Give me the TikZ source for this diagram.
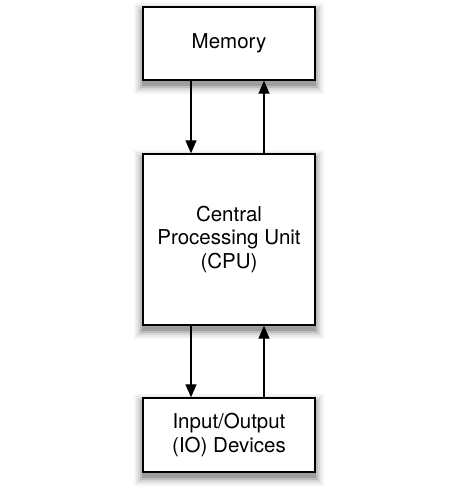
\documentclass[tikz,border=0pt]{standalone}
\usepackage{fontspec}
\setmainfont{TeX Gyre Heros}
\usetikzlibrary{arrows.meta,backgrounds}
\begin{document}
\begin{tikzpicture}[
      box/.style={draw, line width=1.4pt, fill=white, align=center,
        minimum width=172pt, font=\fontsize{20.5}{23.5}\selectfont},
      link/.style={line width=1.3pt, -{Triangle[length=13pt,width=11pt]}},
      x=1pt,
      y=1pt]
    \useasboundingbox (0,0) rectangle (474,491);

    \node [box, minimum height=73pt]  (mem) at (229, 447.5) {Memory};
    \node [box, minimum height=171pt] (cpu) at (229, 251.5) {Central\\Processing Unit\\(CPU)};
    \node [box, minimum height=74pt]  (io)  at (229, 56)    {Input/Output\\(IO) Devices};

    % soft shadows under the boxes
    \begin{scope}[on background layer]
      \foreach \n in {mem, cpu, io}
        \foreach \r/\c in {8/4, 6/9, 4/16, 2/26, 0/38}
          \fill [black!\c]
            ([xshift=-\r pt, yshift={-5pt-\r pt}]\n.south west) rectangle
            ([xshift=\r pt, yshift={-5pt+\r pt}]\n.north east);
    \end{scope}

    \draw [link] ([xshift=-38pt]mem.south) -- ([xshift=-38pt]cpu.north);
    \draw [link] ([xshift=35pt]cpu.north) -- ([xshift=35pt]mem.south);

    \draw [link] ([xshift=-38pt]cpu.south) -- ([xshift=-38pt]io.north);
    \draw [link] ([xshift=35pt]io.north) -- ([xshift=35pt]cpu.south);

  \end{tikzpicture}
\end{document}
